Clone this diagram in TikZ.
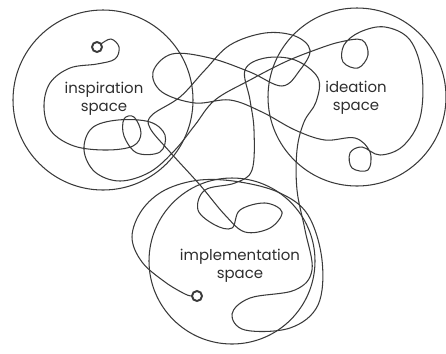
\documentclass[tikz,border=0pt]{standalone}
\usepackage{fontspec}
\setmainfont{Poppins}
\usetikzlibrary{positioning}
\definecolor{inkgray}{HTML}{3A3A3A}
\definecolor{textgray}{HTML}{2E2E2E}
\tikzset{
  space/.style={draw=inkgray, line width=0.6pt},
  scribble/.style={draw=inkgray, line width=0.6pt, line join=round},
  knot/.style={draw=inkgray, line width=1.1pt},
  spacelabel/.style={align=center, font=\fontsize{8.5}{10}\selectfont, text=textgray, inner sep=0pt},
}

\begin{document}
\begin{tikzpicture}[x=0.02cm, y=-0.02cm]
  \useasboundingbox (0,0) rectangle (446,353);

  % --- three spaces ---
  \coordinate (inspc) at (103,100);
  \coordinate (ideac) at (357,97);
  \coordinate (implc) at (232,261);
  \draw[space] (inspc) circle[radius=90];
  \draw[space] (ideac) circle[radius=89];
  \draw[space] (implc) circle[radius=83];

  % --- labels ---
  \node[spacelabel] (insp) at (104,99) {inspiration\\space};
  \node[spacelabel] (idea) at (356,98) {ideation\\space};
  \node[spacelabel] (impl) at (240,266) {implementation\\space};

  % --- start and end of the journey ---
  \draw[knot] (97,47) circle[radius=5];
  \draw[knot] (197,296) circle[radius=5];

  % --- the scribble ---
  \draw[scribble] plot[smooth, tension=0.6] coordinates {
    (101,44) (111,39) (119,47) (115,59) (97,64) (70,68) (50,83) (44,107)
    (51,131) (74,146) (106,150) (133,146) (141,133) (134,117) (124,119)
    (124,136) (137,153) (160,152) (165,135) (150,122) (118,120) (92,128)
    (84,150) (95,172) (120,181) (150,172) (175,150) (195,125) (215,100)
    (250,80) (285,62) (315,50)
    % ideation
    (340,42) (362,40) (368,55) (358,68) (343,62) (344,45) (360,32)
    (385,27) (410,40) (422,75) (420,118) (403,146) (380,155) (362,147)
    (350,153) (352,168) (368,170) (370,152) (355,138) (325,140) (295,130)
    (262,112) (230,100) (195,103) (162,92) (153,72) (172,54) (210,58)
    (250,72) (282,86)
    % top arc and the long diagonal
    (300,70) (310,50) (295,36) (265,33) (230,45) (205,70) (180,97)
    (152,115) (150,128) (170,152) (200,185) (225,215) (245,232)
    % implementation loops
    (270,228) (282,212) (265,203) (240,210) (232,228) (215,225) (198,210)
    (205,190) (235,183) (252,170) (254,130) (250,100) (245,70)
    (265,58) (295,60) (318,78) (316,102) (304,122) (297,150)
    (297,190)
    % right lobe and back to the end
    (305,230) (312,270) (295,290) (250,298) (232,314) (245,330) (290,328)
    (318,305) (322,260) (308,215) (280,193) (240,182) (200,180) (165,190)
    (142,210) (132,237) (142,262) (165,282) (185,294) (192,296)
  };
\end{tikzpicture}
\end{document}
